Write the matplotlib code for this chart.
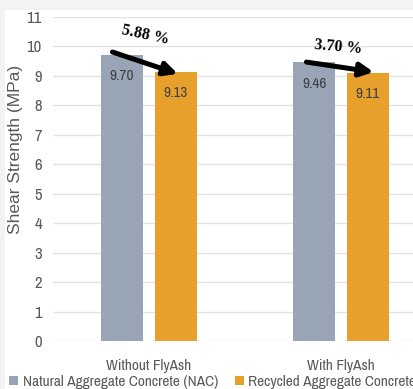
import matplotlib
matplotlib.use("Agg")
import matplotlib.pyplot as plt
from matplotlib.patches import Rectangle
import numpy as np

plt.rcParams["font.family"] = ["Archivo Narrow", "Liberation Sans", "DejaVu Sans"]

categories = ["Without FlyAsh", "With FlyAsh"]
series_names = ["Natural Aggregate Concrete (NAC)", "Recycled Aggregate Concrete (RAC)"]
nac = [9.70, 9.46]
rac = [9.13, 9.11]
drops = ["5.88 %", "3.70 %"]
colors = ["#97A5B6", "#E8A02C"]
yticks = list(range(0, 12))

GREY = "#595959"

fig = plt.figure(figsize=(4.13, 3.89), dpi=100)
fig.patch.set_facecolor("#F3F3F3")
fig.patches.append(Rectangle((5 / 413, 0), 1, 1 - 10 / 389, transform=fig.transFigure,
                             facecolor="white", edgecolor="none", zorder=-10))

ax = fig.add_axes([53 / 413, 1 - 341 / 389, 384 / 413, 324 / 389])
ax.set_facecolor("none")

x = np.arange(len(categories))
off, w = 0.14, 0.22
bars = []
for k, (vals, c) in enumerate(zip([nac, rac], colors)):
    pos = x + (k * 2 - 1) * off
    b = ax.bar(pos, vals, width=w, color=c, zorder=3, label=series_names[k])
    bars.append(b)
    for xi, v in zip(pos, vals):
        ax.text(xi, v - 0.72, f"{v:.2f}", ha="center", va="center", fontsize=11,
                color="#404040", zorder=4)

# arrows showing the NAC -> RAC reduction
arrows = [((-0.19, 9.81), (0.15, 9.07), (-0.02, 10.39), -12),
          ((0.82, 9.47), (1.17, 9.13), (0.985, 9.98), -5)]
for (start, end, tpos, rot), label in zip(arrows, drops):
    ax.annotate("", xy=end, xytext=start,
                arrowprops=dict(arrowstyle="-|>,head_length=0.8,head_width=0.4",
                                color="black", lw=3.6, shrinkA=0, shrinkB=0),
                zorder=5)
    ax.text(*tpos, label, ha="center", va="center", fontsize=11.5, fontweight="bold",
            family="Liberation Serif", rotation=rot, zorder=5)

ax.set_xlim(-0.5, 1.5)
ax.set_ylim(0, 11)
ax.set_yticks(yticks)
ax.set_xticks(x)
ax.set_xticklabels(categories, fontsize=11, color=GREY)
ax.tick_params(axis="y", labelsize=12, colors=GREY, length=0, pad=8)
ax.tick_params(axis="x", length=0, pad=13)
ax.grid(axis="y", color="#E3E3E3", lw=1.0, zorder=0)
for s in ax.spines.values():
    s.set_visible(False)
ax.set_ylabel("Shear Strength (MPa)", fontsize=12.5, color=GREY,
              family=["Liberation Sans", "DejaVu Sans"])
ax.yaxis.set_label_coords(-0.078, 0.59)

fig.legend(handles=bars, labels=series_names, loc="lower left", bbox_to_anchor=(-0.012, -0.035),
           ncol=2, frameon=False, fontsize=11, handlelength=0.6, handleheight=0.6,
           handletextpad=0.3, columnspacing=1.1, labelcolor=GREY)

fig.savefig("out.png", dpi=100, facecolor=fig.get_facecolor())
